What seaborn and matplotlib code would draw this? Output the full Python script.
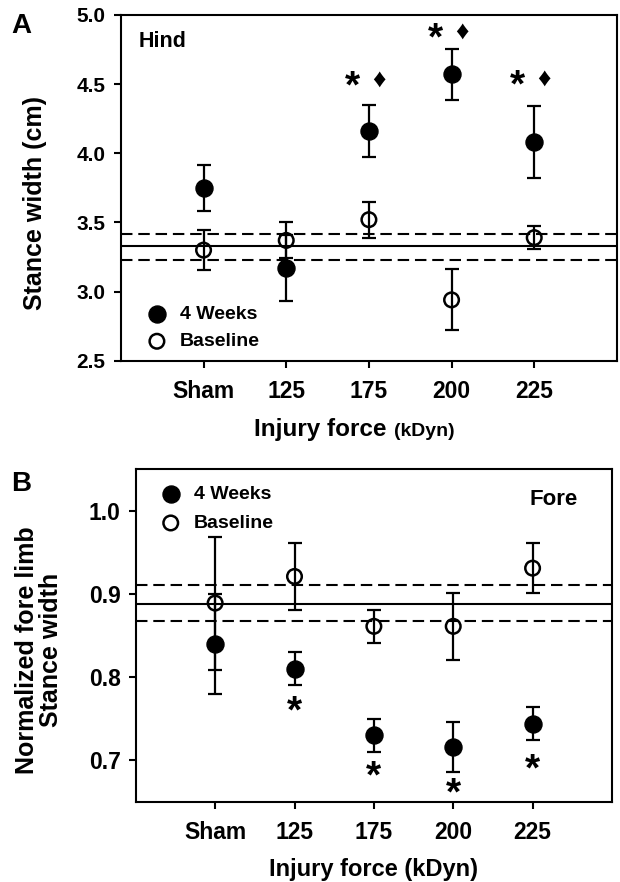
import numpy as np
import pandas as pd
import matplotlib
matplotlib.use("Agg")
import matplotlib.pyplot as plt
import seaborn as sns

# groups on the x axis
groups = ["Sham", "125", "175", "200", "225"]

# panel A - hind limb stance width (cm)
hind_4w = [3.75, 3.17, 4.16, 4.57, 4.08]
hind_4w_err = [0.165, 0.24, 0.19, 0.185, 0.26]
hind_base = [3.30, 3.37, 3.52, 2.94, 3.39]
hind_base_err = [0.145, 0.13, 0.13, 0.22, 0.085]
hind_ref = 3.33
hind_band = [3.23, 3.42]
hind_sig_groups = ["175", "200", "225"]
hind_sig_y = [4.53, 4.88, 4.54]

# panel B - normalized fore limb stance width
fore_4w = [0.84, 0.81, 0.73, 0.716, 0.744]
fore_4w_err = [0.06, 0.02, 0.02, 0.03, 0.02]
fore_base = [0.889, 0.921, 0.861, 0.861, 0.931]
fore_base_err = [0.08, 0.04, 0.02, 0.04, 0.03]
fore_ref = 0.888
fore_band = [0.867, 0.911]
fore_sig_groups = ["125", "175", "200", "225"]
fore_sig_y = [0.766, 0.688, 0.668, 0.697]

sns.set_style("ticks")
FAM = ['Liberation Sans', 'DejaVu Sans']
plt.rcParams['font.family'] = FAM
plt.rcParams['font.weight'] = 'bold'
plt.rcParams['axes.linewidth'] = 1.5
for k in ['text.color', 'axes.labelcolor', 'xtick.color', 'ytick.color', 'axes.edgecolor']:
    plt.rcParams[k] = 'black'


def draw_panel(ax, wk, wk_err, base, base_err, ref, band, ysize):
    x = np.arange(len(groups))
    df = pd.DataFrame({"pos": np.concatenate([x, x]),
                       "value": wk + base,
                       "err": wk_err + base_err,
                       "series": ["4 Weeks"] * len(x) + ["Baseline"] * len(x)})

    # reference band from baseline
    ax.axhline(ref, color='black', lw=1.5, zorder=1)
    for b in band:
        ax.axhline(b, color='black', lw=1.5, ls=(0, (5.5, 2.8)), zorder=1)

    for name, d in df.groupby("series"):
        ax.errorbar(d["pos"], d["value"], yerr=d["err"], fmt='none', ecolor='black',
                    elinewidth=1.6, capsize=4.7, capthick=1.6, zorder=2)

    d = df[df.series == "4 Weeks"]
    sns.scatterplot(data=d, x="pos", y="value", ax=ax, s=150, color='black',
                    edgecolor='black', linewidth=1, label="4 Weeks", zorder=3)
    d = df[df.series == "Baseline"]
    sns.scatterplot(data=d, x="pos", y="value", ax=ax, s=110, facecolor='none',
                    edgecolor='black', linewidth=1.8, label="Baseline", zorder=4)

    ax.set_xlim(-1, 5)
    ax.set_xticks(x)
    ax.set_xticklabels(groups)
    for side in ['top', 'right', 'left', 'bottom']:
        ax.spines[side].set_visible(True)
        ax.spines[side].set_linewidth(1.5)
        ax.spines[side].set_color('black')
    ax.tick_params(axis='both', direction='out', length=5, width=1.5,
                   top=False, right=False)
    ax.tick_params(axis='x', labelsize=16.5, pad=9)
    ax.tick_params(axis='y', labelsize=ysize, pad=6)
    for lab in ax.get_xticklabels() + ax.get_yticklabels():
        lab.set_fontweight('bold')


def star(ax, x, y):
    ax.annotate("*", xy=(x, y), xytext=(0, -5.5), textcoords='offset points',
                fontsize=28, ha='center', va='center')


fig = plt.figure(figsize=(6.2, 8.82), dpi=100)
ax1 = fig.add_axes([0.195, 0.591, 0.80, 0.392])
ax2 = fig.add_axes([0.219, 0.091, 0.768, 0.377])

# ---- panel A ----
draw_panel(ax1, hind_4w, hind_4w_err, hind_base, hind_base_err, hind_ref, hind_band, 15)
ax1.set_ylim(2.5, 5.0)
ax1.set_yticks([2.5, 3.0, 3.5, 4.0, 4.5, 5.0])
ax1.set_yticklabels(["2.5", "3.0", "3.5", "4.0", "4.5", "5.0"])
ax1.set_ylabel("Stance width (cm)", fontsize=18, fontweight='bold')
ax1.yaxis.set_label_coords(-0.148, 0.457)
ax1.set_xlabel("")
xl = ax1.text(0.55, -0.165, "Injury force ", transform=ax1.transAxes, fontsize=17.5,
              fontweight='bold', ha='right', va='top')
ax1.annotate("(kDyn)", xy=(1, 0.05), xycoords=xl, fontsize=14, fontweight='bold',
             ha='left', va='bottom')
ax1.text(-0.79, 4.81, "Hind", fontsize=15.5, fontweight='bold', va='center')
for g, yv in zip(hind_sig_groups, hind_sig_y):
    p = groups.index(g)
    star(ax1, p - 0.2, yv)
    ax1.text(p + 0.12, yv, "\u2666", fontsize=19, ha='center', va='center', family=FAM)
ax1.legend(loc='lower left', bbox_to_anchor=(0.053, 0.03), frameon=False,
           handlelength=1.0, handletextpad=0.7, labelspacing=0.5,
           borderpad=0, borderaxespad=0, prop={'weight': 'bold', 'size': 14})

# ---- panel B ----
draw_panel(ax2, fore_4w, fore_4w_err, fore_base, fore_base_err, fore_ref, fore_band, 16.5)
ax2.set_ylim(0.65, 1.05)
ax2.set_yticks([0.7, 0.8, 0.9, 1.0])
ax2.set_yticklabels(["0.7", "0.8", "0.9", "1.0"])
ax2.set_ylabel("Normalized fore limb\nStance width", fontsize=18, fontweight='bold',
               linespacing=1.0)
ax2.yaxis.set_label_coords(-0.153, 0.456)
ax2.set_xlabel("Injury force (kDyn)", fontsize=17, fontweight='bold', labelpad=10)
ax2.text(4.26, 1.014, "Fore", fontsize=16, fontweight='bold', ha='center', va='center')
for g, yv in zip(fore_sig_groups, fore_sig_y):
    star(ax2, groups.index(g), yv)
ax2.legend(loc='upper left', bbox_to_anchor=(0.053, 0.952), frameon=False,
           handlelength=1.0, handletextpad=0.7, labelspacing=0.6,
           borderpad=0, borderaxespad=0, prop={'weight': 'bold', 'size': 14})

fig.text(0.018, 0.985, "A", fontsize=20, fontweight='bold', va='top')
fig.text(0.018, 0.466, "B", fontsize=20, fontweight='bold', va='top')

fig.savefig("out.png", dpi=100)
